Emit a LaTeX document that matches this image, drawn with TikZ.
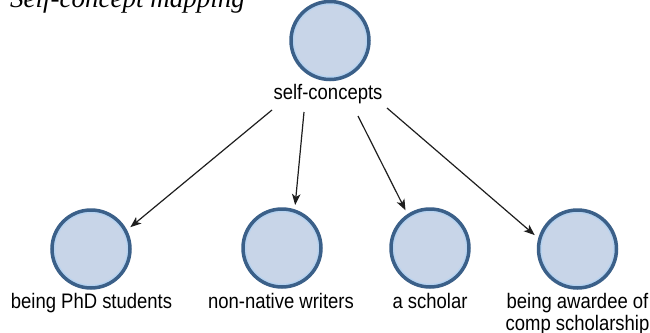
\documentclass[tikz,border=0pt]{standalone}
\usepackage{fontspec}
\usetikzlibrary{arrows.meta}
\newfontfamily\labfont[FakeStretch=0.88]{Liberation Sans}
\newfontfamily\titlefont{Liberation Serif}
\definecolor{ringdark}{HTML}{3B6089}
\definecolor{ringlight}{HTML}{B5D2F0}
\definecolor{discfill}{HTML}{C8D5E8}
\definecolor{arrowc}{HTML}{1E1E1E}
\tikzset{
  disc/.style={circle, draw=ringdark, line width=3.5pt, fill=discfill,
    minimum size=78pt, inner sep=0pt, outer sep=6pt,
    path picture={\draw[ringlight, line width=1.6pt]
      (path picture bounding box.center) circle (36.6pt);}},
  lab/.style={font=\labfont\fontsize{21}{22}\selectfont, inner sep=0pt, anchor=base, align=center},
  conn/.style={draw=arrowc, line width=1.2pt, -{Stealth[length=11pt,width=8.5pt,inset=3pt]}}
}
\begin{document}
\begin{tikzpicture}[x=1pt,y=-1pt]
\useasboundingbox (0,0) rectangle (650,332);
\node[anchor=base west, inner sep=0pt, font=\titlefont\itshape\fontsize{27}{30}\selectfont] (title) at (10,7) {Self-concept mapping};
\node[disc] (top) at (330,40.5) {};
\node[lab] (topl) at (328,99) {self-concepts};
\node[disc] (c1) at (91,249) {};
\node[disc] (c2) at (282,248) {};
\node[disc] (c3) at (430,248) {};
\node[disc] (c4) at (577.5,249) {};
\node[lab] (l1) at (91.5,308) {being PhD students};
\node[lab] (l2) at (281,308) {non-native writers};
\node[lab] (l3) at (430,308) {a scholar};
\node[lab] (l4) at (577.5,330) {being awardee of\\comp scholarship};
\coordinate (s1) at (272,110);
\coordinate (s2) at (304,112);
\coordinate (s3) at (358,116);
\coordinate (s4) at (387,108);
\draw[conn] (s1) -- (c1.29);
\draw[conn] (s2) -- (c2.73);
\draw[conn] (s3) -- (c3.123);
\draw[conn] (s4) -- (c4.162);
\end{tikzpicture}
\end{document}
